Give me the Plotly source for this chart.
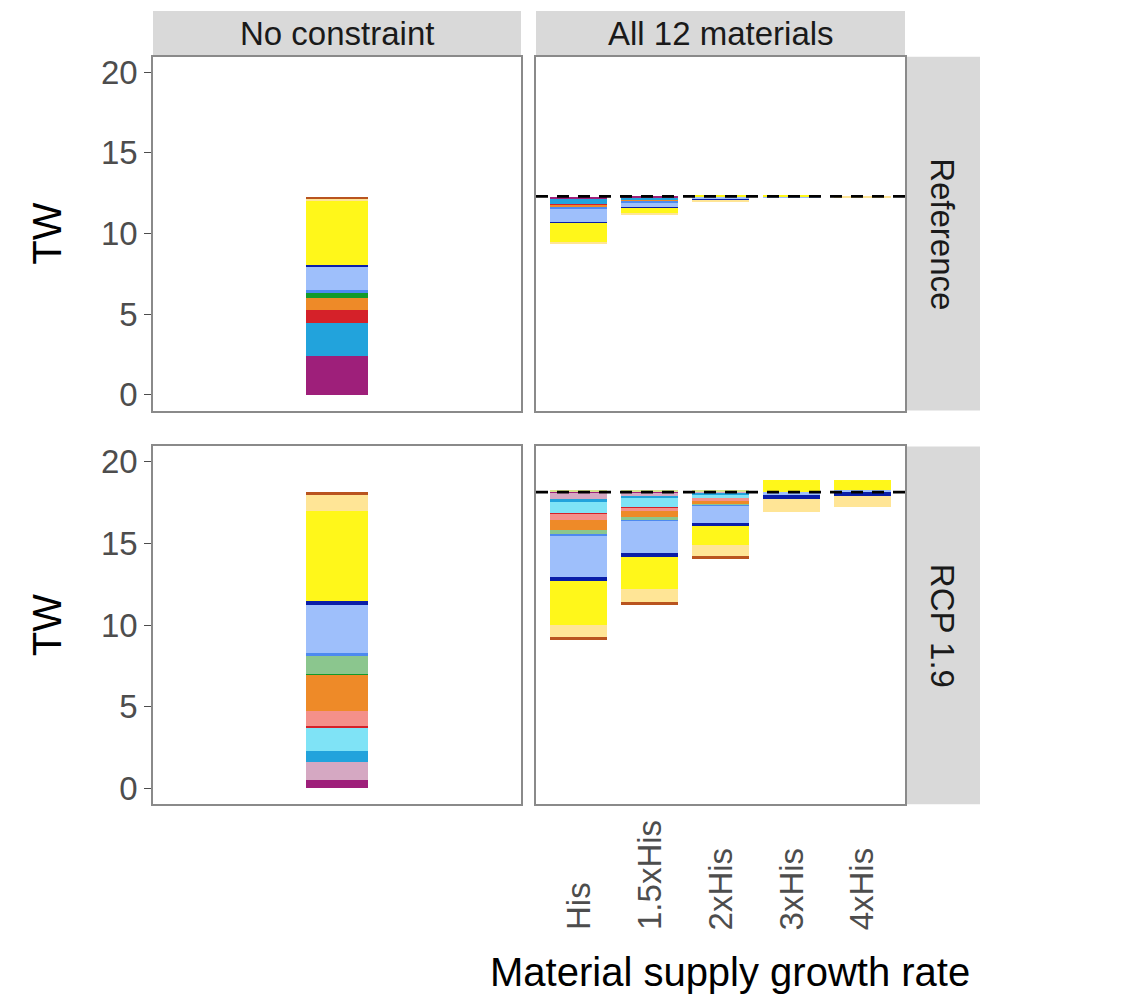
import plotly.graph_objects as go

W, H = 1122, 1002

# ---------------- data ----------------
technologies = ["Hydro", "Hydro new", "Wind onshore", "Wind onshore new", "Biomass",
                "Biomass CCS", "Nuclear", "Gas", "Gas CCS", "Wind offshore",
                "Wind offshore new", "Solar PV rooftop", "Solar PV utility", "CSP",
                "Geothermal", "Other"]
tech_colors = ["#9E1F7A", "#D5A8C2", "#22A3DC", "#7FE3F6", "#D52129",
               "#F4908A", "#EE8A28", "#129A2B", "#8BC68E", "#4D8AF0",
               "#9EBFFB", "#0A1EA8", "#FFF71A", "#FFE596", "#B9541F", "#D6E38E"]

growth_rates = ["His", "1.5xHis", "2xHis", "3xHis", "4xHis"]
scenarios = ["Reference", "RCP 1.9"]

# No constraint (TW)
ref_noconstraint = [2.4, 0, 2.1, 0, 0.75, 0, 0.8, 0.3, 0, 0.15, 1.45, 0.1, 4.0, 0.1, 0.15, 0]
rcp_noconstraint = [0.5, 1.1, 0.65, 1.45, 0.1, 0.9, 2.25, 0.05, 1.1, 0.2, 2.9, 0.25, 5.5, 1.0, 0.2, 0]

# All 12 materials: change vs. no-constraint (TW), per growth rate
ref_his   = [-0.15, 0, -0.35, 0, -0.05, 0, -0.1, -0.03, 0, -0.1, -0.8, -0.05, -1.2, -0.12, 0, 0]
ref_15his = [-0.08, 0, -0.15, 0, 0, 0, -0.05, 0, 0, -0.1, -0.3, -0.05, -0.3, -0.08, 0, 0]
ref_2his  = [0, 0, 0, 0, 0, 0, 0, 0, 0, -0.05, -0.15, -0.03, 0.08, -0.05, 0, 0]
ref_3his  = [0, 0, 0, 0, 0, 0, 0, 0, 0, 0, -0.05, 0, 0.1, 0, 0, 0]
ref_4his  = [0, 0, 0, 0, 0, 0, 0, 0, 0, 0, 0, 0, 0.03, -0.03, 0, 0]

rcp_his   = [-0.05, -0.4, -0.16, -0.75, -0.03, -0.36, -0.6, 0, -0.3, -0.05, -2.55, -0.2, -2.7, -0.77, -0.18, 0.08]
rcp_15his = [-0.05, -0.25, -0.1, -0.55, -0.02, -0.24, -0.36, 0, -0.18, -0.03, -2.0, -0.22, -1.97, -0.77, -0.18, 0.08]
rcp_2his  = [0, -0.1, -0.12, -0.2, -0.02, -0.12, -0.2, 0, -0.1, -0.03, -1.02, -0.16, -1.18, -0.71, -0.14, 0.06]
rcp_3his  = [0, 0, 0, -0.03, 0, 0, 0, 0, 0, 0, -0.2, -0.2, 0.7, -0.8, 0, 0]
rcp_4his  = [0, 0, 0, 0, 0, 0, 0, 0, 0, 0, 0.12, -0.25, 0.58, -0.7, 0, 0]

# ---------------- layout geometry (pixels, page coords) ----------------
OFF = 8  # default body margin of the html page


def px_x(p):
    return (p - OFF) / W


def px_y(p):
    return (H - (p - OFF)) / H


col_px = [(153, 521), (536, 905)]
row_px = [(54, 410), (446, 806)]
strip_top = 8
strip_right = 980

FONT = "Liberation Sans, Arial, sans-serif"
border = "#8A8A8A"

fig = go.Figure()

axes = {(0, 0): ("x", "y"), (0, 1): ("x2", "y2"), (1, 0): ("x3", "y3"), (1, 1): ("x4", "y4")}

no_constraint = [ref_noconstraint, rcp_noconstraint]
constrained = [[ref_his, ref_15his, ref_2his, ref_3his, ref_4his],
               [rcp_his, rcp_15his, rcp_2his, rcp_3his, rcp_4his]]

for r in range(2):
    # left column: stacked bar
    xa, ya = axes[(r, 0)]
    cursor = 0.0
    vals = no_constraint[r]
    for k, tech in enumerate(technologies):
        v = vals[k]
        if v == 0:
            continue
        fig.add_trace(go.Bar(x=[1], y=[v], base=[cursor], width=0.2,
                             marker=dict(color=tech_colors[k], line=dict(width=0)),
                             name=tech, showlegend=False, xaxis=xa, yaxis=ya))
        cursor += v
    total = sum(vals)

    # right column: changes hanging from the no-constraint total
    xa, ya = axes[(r, 1)]
    pos = [total] * len(growth_rates)
    neg = [total] * len(growth_rates)
    for k, tech in enumerate(technologies):
        xs, ys, bs = [], [], []
        for j, series in enumerate(constrained[r]):
            v = series[k]
            if v == 0:
                continue
            if v > 0:
                bs.append(pos[j]); pos[j] += v
            else:
                bs.append(neg[j]); neg[j] += v
            xs.append(j + 1); ys.append(v)
        if xs:
            fig.add_trace(go.Bar(x=xs, y=ys, base=bs, width=0.8,
                                 marker=dict(color=tech_colors[k], line=dict(width=0)),
                                 name=tech, showlegend=False, xaxis=xa, yaxis=ya))
    fig.add_shape(type="line", xref=f"{xa} domain", yref=ya, x0=0, x1=1, y0=total, y1=total,
                  line=dict(color="black", width=2.6, dash="12px,9px"), layer="above")

yrange = [-0.97, 20.95]
layout_axes = {}
for (r, c), (xa, ya) in axes.items():
    xkey = "xaxis" if xa == "x" else "xaxis" + xa[1:]
    ykey = "yaxis" if ya == "y" else "yaxis" + ya[1:]
    x0, x1 = col_px[c]
    y0, y1 = row_px[r]
    layout_axes[xkey] = dict(domain=[px_x(x0), px_x(x1)], anchor=ya,
                             range=[0.4, 1.6] if c == 0 else [0.4, 5.6],
                             showticklabels=False, ticks="", showgrid=False, zeroline=False,
                             showline=True, mirror=True, linecolor=border, linewidth=1.5,
                             fixedrange=True)
    layout_axes[ykey] = dict(domain=[px_y(y1), px_y(y0)], anchor=xa, range=yrange,
                             tickvals=[0, 5, 10, 15, 20],
                             showticklabels=(c == 0), ticks="outside" if c == 0 else "",
                             ticklen=7, tickwidth=1.3, tickcolor="#4D4D4D",
                             tickfont=dict(family=FONT, size=33, color="#4D4D4D"),
                             showgrid=False, zeroline=False,
                             showline=True, mirror=True, linecolor=border, linewidth=1.5,
                             fixedrange=True)

fig.update_layout(width=W, height=H, margin=dict(l=0, r=0, t=0, b=0),
                  paper_bgcolor="white", plot_bgcolor="white",
                  barmode="overlay", bargap=0, showlegend=False,
                  font=dict(family=FONT), **layout_axes)

# facet strips
strip_fill = "#D9D9D9"
col_titles = ["No constraint", "All 12 materials"]
for c in range(2):
    x0, x1 = col_px[c]
    fig.add_shape(type="rect", xref="paper", yref="paper", x0=px_x(x0), x1=px_x(x1),
                  y0=px_y(row_px[0][0]), y1=px_y(strip_top), fillcolor=strip_fill,
                  line=dict(width=0), layer="below")
    fig.add_annotation(text=col_titles[c], xref="paper", yref="paper",
                       x=px_x((x0 + x1) / 2), y=px_y((strip_top + row_px[0][0]) / 2),
                       xanchor="center", yanchor="middle",
                       showarrow=False, font=dict(family=FONT, size=33, color="#1A1A1A"))
for r in range(2):
    y0, y1 = row_px[r]
    fig.add_shape(type="rect", xref="paper", yref="paper", x0=px_x(col_px[1][1]), x1=px_x(strip_right),
                  y0=px_y(y1), y1=px_y(y0), fillcolor=strip_fill, line=dict(width=0), layer="below")
    fig.add_annotation(text=scenarios[r], xref="paper", yref="paper",
                       x=px_x((col_px[1][1] + strip_right) / 2), y=px_y((y0 + y1) / 2),
                       xanchor="center", yanchor="middle",
                       textangle=90, showarrow=False,
                       font=dict(family=FONT, size=33, color="#1A1A1A"))
    fig.add_annotation(text="TW", xref="paper", yref="paper", x=px_x(47), y=px_y((y0 + y1) / 2),
                       xanchor="center", yanchor="middle",
                       textangle=-90, showarrow=False, font=dict(family=FONT, size=40, color="black"))

# x tick labels (rotated, bottom-aligned)
for j, lab in enumerate(growth_rates):
    fig.add_annotation(text=lab, xref="x4", yref="paper", x=j + 1, y=px_y(935),
                       xanchor="center", yanchor="bottom", textangle=-90, showarrow=False,
                       font=dict(family=FONT, size=33, color="#4D4D4D"))

fig.add_annotation(text="Material supply growth rate", xref="paper", yref="paper",
                   x=px_x(730), y=px_y(975), xanchor="center", yanchor="middle", showarrow=False,
                   font=dict(family=FONT, size=40, color="black"))

fig.write_html("out.html")
